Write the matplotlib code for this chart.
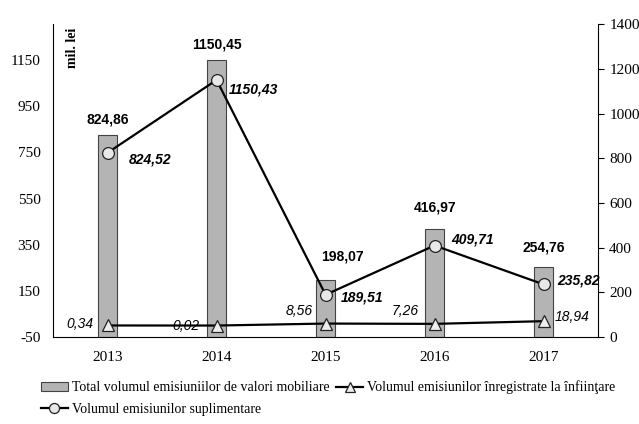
#!/usr/bin/env python3
''' Volumul emisiunilor de valori mobiliare, 2013-2017. '''
import matplotlib
matplotlib.use('Agg')
import matplotlib.pyplot as plt
import numpy as np

years = ['2013', '2014', '2015', '2016', '2017']
total = [824.86, 1150.45, 198.07, 416.97, 254.76]
infiintare = [0.34, 0.02, 8.56, 7.26, 18.94]
suplimentare = [824.52, 1150.43, 189.51, 409.71, 235.82]

total_lbl = ['824,86', '1150,45', '198,07', '416,97', '254,76']
infiintare_lbl = ['0,34', '0,02', '8,56', '7,26', '18,94']
suplimentare_lbl = ['824,52', '1150,43', '189,51', '409,71', '235,82']

serif = 'Liberation Serif'
sans = 'Liberation Sans'
plt.rcParams['axes.unicode_minus'] = False


def main():
  fig = plt.figure(figsize=(6.39, 4.24), dpi=100)
  ax = fig.add_axes([0.083, 0.205, 0.853, 0.738])
  ax2 = ax.twinx()
  x = np.arange(len(years))

  # Bars and the small series go on the left axis, the big line on the right one.
  bars = ax.bar(x, np.array(total) + 50, bottom=-50, width=0.18, color='#b4b4b4',
    edgecolor='#444444', linewidth=0.8, zorder=2,
    label='Total volumul emisiuniilor de valori mobiliare')
  tri, = ax.plot(x, infiintare, color='black', lw=1.6, marker='^', ms=8.5,
    mfc='#eeeeee', mec='#222222', mew=0.9, zorder=4,
    label='Volumul emisiunilor înregistrate la înfiinţare')
  circ, = ax2.plot(x, suplimentare, color='black', lw=1.6, marker='o', ms=8.5,
    mfc='#e8e8e8', mec='#222222', mew=0.9, zorder=4,
    label='Volumul emisiunilor suplimentare')

  ax.set_xlim(-0.5, 4.5)
  ax.set_ylim(-50, 1306)
  ax2.set_ylim(0, 1400)
  ax.set_yticks(range(-50, 1151, 200))
  ax2.set_yticks(range(0, 1401, 200))
  ax.set_xticks(x)
  ax.set_xticklabels(years)
  ax.tick_params(axis='x', length=0, pad=10, labelsize=11)
  ax.tick_params(axis='y', length=0, pad=9, labelsize=11)
  ax2.tick_params(axis='y', length=4, width=0.8, pad=4, labelsize=11)
  for a in (ax, ax2):
    for t in a.get_xticklabels() + a.get_yticklabels():
      t.set_fontfamily(serif)
    a.spines['top'].set_visible(False)
  ax.spines['right'].set_visible(False)
  ax2.spines['left'].set_visible(False)
  ax2.spines['bottom'].set_visible(False)

  ax.text(0.035, 0.99, 'mil. lei', transform=ax.transAxes, rotation=90,
    ha='center', va='top', fontsize=10, fontweight='bold', family=serif)

  # Value labels.
  tot_off = [(0, 6), (0, 6), (12, 12), (0, 11), (0, 9)]
  for i, v in enumerate(total):
    ax.annotate(total_lbl[i], (x[i], v), xytext=tot_off[i], textcoords='offset points',
      ha='center', va='bottom', fontsize=10, fontweight='bold', family=sans)
  sup_off = [(15, -5), (9, -7), (11, -2), (12, 4), (10, 3)]
  for i, v in enumerate(suplimentare):
    ax2.annotate(suplimentare_lbl[i], (x[i], v), xytext=sup_off[i], textcoords='offset points',
      ha='left', va='center', fontsize=10, fontweight='bold', style='italic', family=sans)
  inf_off = [(-20, 1), (-22, 0), (-19, 9), (-21, 9), (8, 3)]
  for i, v in enumerate(infiintare):
    ha = 'left' if i == 4 else 'center'
    ax.annotate(infiintare_lbl[i], (x[i], v), xytext=inf_off[i], textcoords='offset points',
      ha=ha, va='center', fontsize=10, style='italic', family=sans)

  fig.legend([bars, circ, tri], [bars.get_label(), circ.get_label(), tri.get_label()],
    ncol=2, loc='lower left', bbox_to_anchor=(0.045, -0.01), frameon=False,
    prop={'family': serif, 'size': 10}, handlelength=1.9, handletextpad=0.3,
    columnspacing=0.5, labelspacing=0.6, markerscale=0.85)

  fig.savefig('out.png', dpi=100)


if __name__ == '__main__':
  main()
